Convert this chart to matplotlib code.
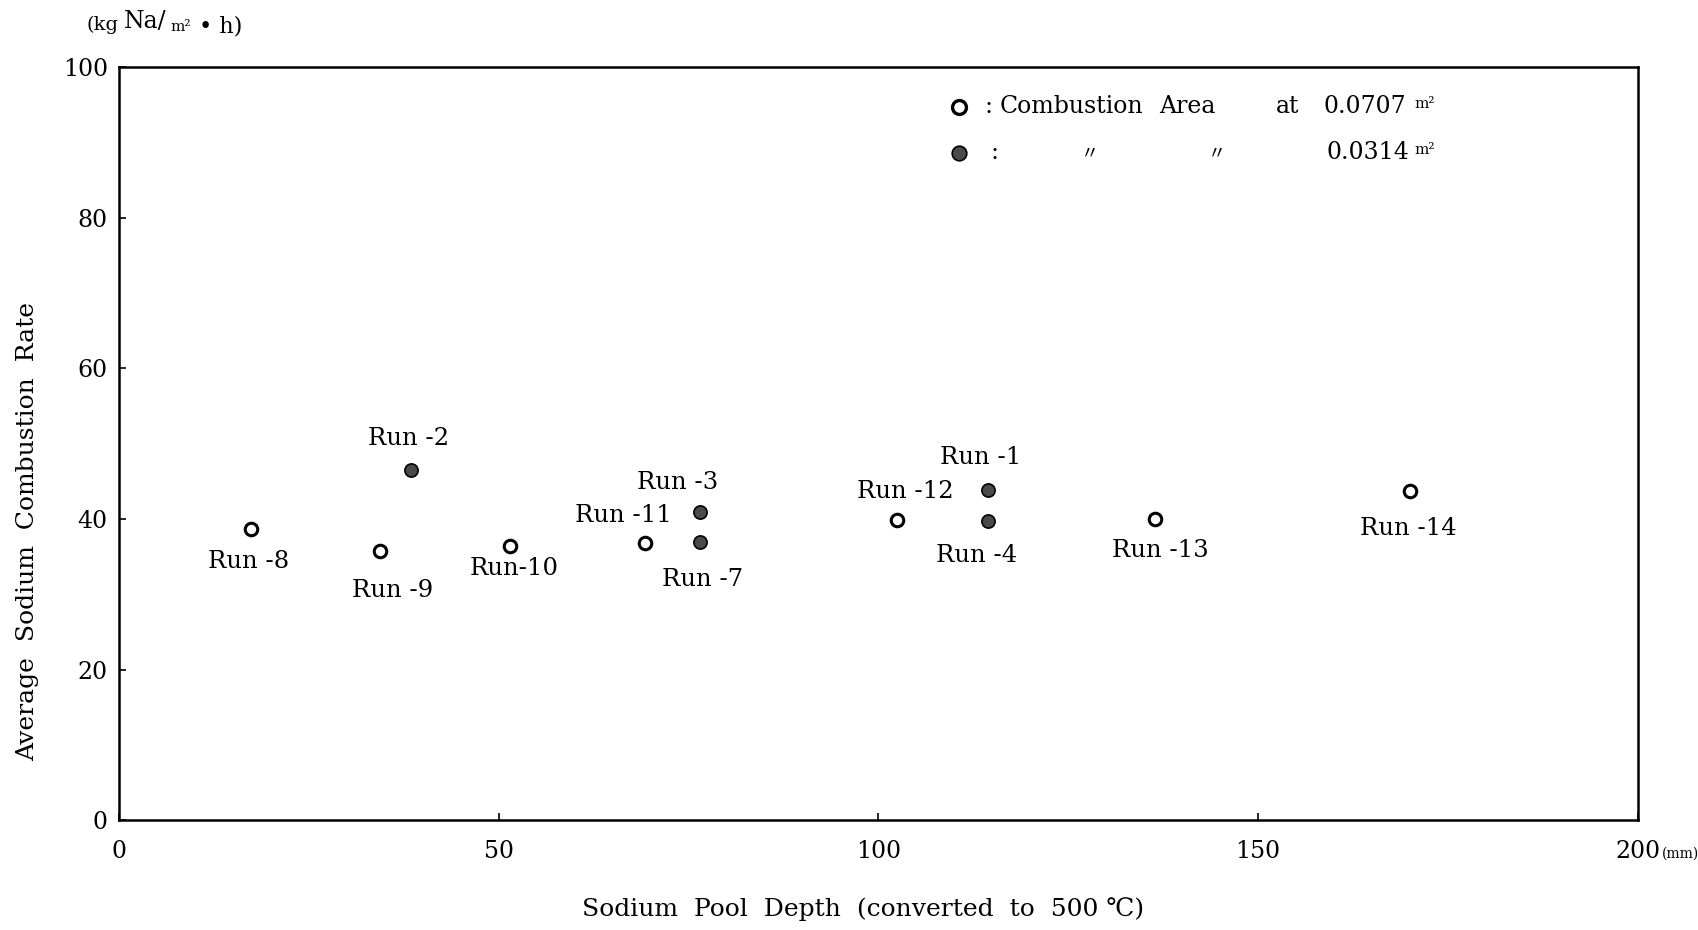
import matplotlib
matplotlib.use("Agg")
import matplotlib.pyplot as plt

plt.rcParams['font.family'] = ['DejaVu Serif', 'Noto Sans CJK JP', 'DejaVu Sans']

# Combustion area 0.0707 m2 (open circles)
open_runs = ['Run-8', 'Run-9', 'Run-10', 'Run-11', 'Run-12', 'Run-13', 'Run-14']
open_depth = [17.4, 34.4, 51.5, 69.3, 102.4, 136.4, 170.0]
open_rate = [38.6, 35.8, 36.4, 36.8, 39.9, 40.0, 43.7]

# Combustion area 0.0314 m2 (filled circles)
fill_runs = ['Run-2', 'Run-3', 'Run-7', 'Run-1', 'Run-4']
fill_depth = [38.5, 76.5, 76.5, 114.4, 114.4]
fill_rate = [46.5, 40.9, 37.0, 43.9, 39.7]

x_ticks = [0, 50, 100, 150, 200]
y_ticks = [0, 20, 40, 60, 80, 100]

# label offsets (points) relative to each marker
offsets = {
    'Run-8': (-2, -23), 'Run-9': (9, -29), 'Run-10': (3, -16), 'Run-11': (-16, 20),
    'Run-12': (6, 20), 'Run-13': (4, -23), 'Run-14': (-1, -27),
    'Run-2': (-2, 23), 'Run-3': (-16, 21), 'Run-7': (2, -27), 'Run-1': (-5, 23),
    'Run-4': (-8, -25),
}

fig = plt.figure(figsize=(16.99, 9.30), dpi=100)
ax = fig.add_axes([0.070, 0.118, 0.894, 0.810])

ax.plot(open_depth, open_rate, 'o', ms=9, mfc='white', mec='black', mew=2.2, ls='none')
ax.plot(fill_depth, fill_rate, 'o', ms=9.5, mfc='#4a4a4a', mec='black', mew=1.2, ls='none')

for name, x, y in zip(open_runs + fill_runs, open_depth + fill_depth, open_rate + fill_rate):
    txt = name if name == 'Run-10' else name.replace('-', ' -')
    ax.annotate(txt, (x, y), xytext=offsets[name], textcoords='offset points',
                ha='center', va='center', fontsize=17.5)

ax.set_xlim(0, 200)
ax.set_ylim(0, 100)
ax.set_xticks(x_ticks)
ax.set_yticks(y_ticks)
ax.set_xticklabels([str(t) for t in x_ticks], fontsize=17)
ax.set_yticklabels([str(t) for t in y_ticks], fontsize=17)
ax.tick_params(axis='x', direction='in', length=5, width=1.2, pad=14)
ax.tick_params(axis='y', direction='in', length=5, width=1.2, pad=8)
for s in ax.spines.values():
    s.set_linewidth(1.8)

ax.text(1.016, -0.045, '(mm)', transform=ax.transAxes, fontsize=10, va='center', ha='left')

# legend drawn by hand like the original
ax.plot([0.553], [0.947], 'o', ms=10, mfc='white', mec='black', mew=2.4, transform=ax.transAxes, clip_on=False)
ax.plot([0.553], [0.886], 'o', ms=10.5, mfc='#4a4a4a', mec='black', mew=1.2, transform=ax.transAxes, clip_on=False)
row1 = [(0.570, ':'), (0.580, 'Combustion'), (0.685, 'Area'), (0.762, 'at'), (0.793, '0.0707')]
for xa, s in row1:
    ax.text(xa, 0.947, s, transform=ax.transAxes, fontsize=17, va='center')
ax.text(0.574, 0.886, ':', transform=ax.transAxes, fontsize=17, va='center')
ax.text(0.633, 0.886, '〃', transform=ax.transAxes, fontsize=13, va='center', family='Noto Sans CJK JP')
ax.text(0.717, 0.886, '〃', transform=ax.transAxes, fontsize=13, va='center', family='Noto Sans CJK JP')
ax.text(0.795, 0.886, '0.0314', transform=ax.transAxes, fontsize=17, va='center')
for yy in (0.947, 0.886):
    ax.text(0.853, yy + 0.004, 'm²', transform=ax.transAxes, fontsize=11, va='center')

# unit of the y axis
fig.text(0.051, 0.973, '(kg', fontsize=14, va='center', ha='left')
fig.text(0.073, 0.977, 'Na/', fontsize=17, va='center', ha='left')
fig.text(0.1005, 0.971, 'm²', fontsize=11, va='center', ha='left')
fig.text(0.117, 0.972, '• h)', fontsize=16, va='center', ha='left')

fig.text(0.016, 0.428, 'Average  Sodium  Combustion  Rate', rotation=90, fontsize=18,
         va='center', ha='center')
fig.text(0.508, 0.022, 'Sodium  Pool  Depth  (converted  to  500 ℃)', fontsize=18,
         va='center', ha='center')

fig.savefig('out.png', dpi=100)
